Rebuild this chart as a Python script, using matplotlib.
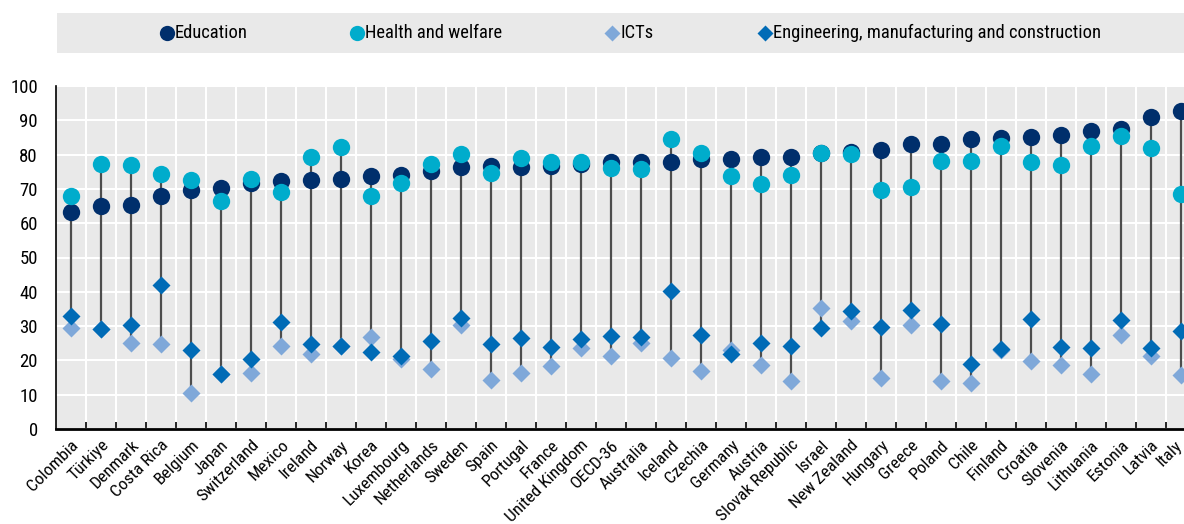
import matplotlib.pyplot as plt
from matplotlib.lines import Line2D
from matplotlib.patches import Rectangle
from matplotlib.transforms import ScaledTranslation

plt.rcParams['font.family'] = ['Roboto Condensed', 'Liberation Sans', 'DejaVu Sans']

countries = ['Colombia', 'Türkiye', 'Denmark', 'Costa Rica', 'Belgium', 'Japan', 'Switzerland',
             'Mexico', 'Ireland', 'Norway', 'Korea', 'Luxembourg', 'Netherlands', 'Sweden',
             'Spain', 'Portugal', 'France', 'United Kingdom', 'OECD-36', 'Australia', 'Iceland',
             'Czechia', 'Germany', 'Austria', 'Slovak Republic', 'Israel', 'New Zealand',
             'Hungary', 'Greece', 'Poland', 'Chile', 'Finland', 'Croatia', 'Slovenia',
             'Lithuania', 'Estonia', 'Latvia', 'Italy']

education = [63.2, 64.9, 65.2, 67.8, 69.7, 70.3, 71.7, 72.4, 72.5, 72.9, 73.7, 74.0, 75.2, 76.4,
             76.7, 76.4, 76.6, 77.2, 77.7, 77.8, 77.9, 78.8, 78.8, 79.2, 79.4, 80.4, 80.8,
             81.2, 83.1, 83.1, 84.5, 84.9, 85.1, 85.6, 86.9, 87.5, 91.1, 92.6]
health = [67.9, 77.3, 77.1, 74.3, 72.6, 66.6, 72.9, 69.1, 79.2, 82.3, 68.0, 71.8, 77.3, 80.2,
          74.6, 79.1, 77.8, 77.8, 76.1, 75.8, 84.5, 80.6, 73.8, 71.3, 74.1, 80.6, 80.1,
          69.6, 70.5, 78.0, 78.2, 82.4, 77.7, 76.9, 82.4, 85.5, 81.9, 68.6]
icts = [29.4, 29.3, 25.0, 24.8, 10.4, 16.0, 16.2, 24.3, 21.9, 24.2, 26.9, 20.4, 17.5, 30.4,
        14.4, 16.3, 18.5, 23.7, 21.4, 25.0, 20.7, 17.0, 22.9, 18.8, 14.1, 35.4, 31.4,
        14.8, 30.4, 14.1, 13.4, 23.0, 19.9, 18.8, 15.9, 27.5, 21.4, 15.6]
engineering = [32.9, 29.1, 30.2, 41.9, 23.1, 16.1, 20.3, 31.2, 24.8, 24.3, 22.4, 21.3, 25.8, 32.4,
               24.8, 26.5, 24.0, 26.3, 27.0, 26.7, 40.3, 27.5, 21.9, 25.2, 24.3, 29.4, 34.5,
               29.7, 34.7, 30.6, 18.9, 23.2, 32.2, 23.8, 23.6, 31.8, 23.5, 28.7]

c_edu = '#002F6C'
c_health = '#00ACCC'
c_ict = '#7FA8D9'
c_eng = '#006BB6'

fig = plt.figure(figsize=(11.84, 5.24), dpi=100)
W, H = 1184, 524
ax = fig.add_axes([56 / W, (H - 429) / H, (38 * 30) / W, (429 - 86) / H])
ax.set_facecolor('#E9E9E9')

x = list(range(len(countries)))
for i in x:
    vals = [education[i], health[i], icts[i], engineering[i]]
    ax.plot([i, i], [min(vals), max(vals)], color='#4D4D4D', lw=1.6, zorder=2)

ax.plot(x, icts, 'D', color=c_ict, ms=9, mec='none', zorder=3)
ax.plot(x, engineering, 'D', color=c_eng, ms=9, mec='none', zorder=4)
ax.plot(x, education, 'o', color=c_edu, ms=12.5, mec='none', zorder=5)
ax.plot(x, health, 'o', color=c_health, ms=12.5, mec='none', zorder=6)

ax.set_xlim(-0.5, len(countries) - 0.5)
ax.set_ylim(0, 100)
ax.set_yticks(range(0, 101, 10))
ax.set_xticks(x)
ax.set_xticklabels(countries, rotation=45, ha='right', va='top', rotation_mode='anchor')
ax.set_xticks([i + 0.5 for i in x[:-1]], minor=True)
ax.tick_params(axis='x', which='major', length=0, labelsize=12.5, pad=6)
ax.tick_params(axis='x', which='minor', length=5, direction='in', color='black', width=1.2)
ax.tick_params(axis='y', length=0, labelsize=13.5, pad=13)
ax.grid(axis='y', color='white', lw=1.5)
ax.grid(axis='x', which='minor', color='white', lw=1.5)
ax.set_axisbelow(True)
for s in ['top', 'right']:
    ax.spines[s].set_visible(False)
ax.spines['left'].set_linewidth(1.2)
ax.spines['bottom'].set_linewidth(2)

# last label sits at the figure edge, nudge it in a little
last = ax.get_xticklabels()[-1]
last.set_transform(last.get_transform() + ScaledTranslation(-6 / 100, 0, fig.dpi_scale_trans))

# legend band
fig.add_artist(Rectangle((57 / W, (H - 53) / H), (W - 57) / W, 40 / H,
                         transform=fig.transFigure, facecolor='#E9E9E9', edgecolor='none'))
entries = [('Education', c_edu, 'o', 167), ('Health and welfare', c_health, 'o', 357),
           ('ICTs', c_ict, 'D', 612), ('Engineering, manufacturing and construction', c_eng, 'D', 765)]
ly = (H - 33) / H
for label, col, mk, px in entries:
    ms = 11 if mk == 'o' else 8
    fig.add_artist(Line2D([px / W], [ly], marker=mk, color=col, ms=ms, mec='none',
                          transform=fig.transFigure))
    fig.text((px + 8) / W, ly, label, fontsize=13.3, va='center', ha='left')

fig.savefig('out.png', dpi=100)
